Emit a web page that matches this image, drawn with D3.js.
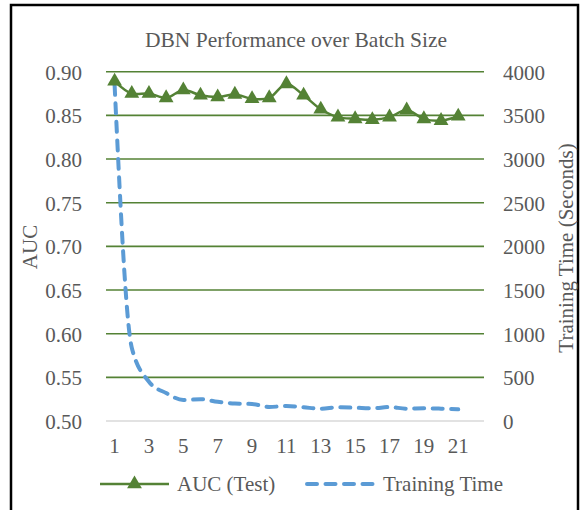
<!DOCTYPE html>
<html><head><meta charset="utf-8">
<script src="https://cdn.jsdelivr.net/npm/d3@7"></script>
<style>body{margin:0;background:#fff}svg{display:block}text{font-family:"Liberation Serif","Times New Roman",serif;fill:#595959}</style>
</head><body><svg id="c" width="581" height="510"></svg>
<script>
const batchSizes = [1,2,3,4,5,6,7,8,9,10,11,12,13,14,15,16,17,18,19,20,21];
const categories = d3.range(1,23);
const xTickLabels = [1,3,5,7,9,11,13,15,17,19,21];
const aucTest = [0.889,0.875,0.875,0.870,0.879,0.873,0.871,0.874,0.869,0.870,0.886,0.873,0.857,0.848,0.846,0.845,0.848,0.856,0.846,0.844,0.849];
const trainingTime = [3850,840,450,320,240,250,220,200,195,160,172,157,141,157,152,145,160,141,145,141,134];
const aucTicks = [0.50,0.55,0.60,0.65,0.70,0.75,0.80,0.85,0.90];
const timeTicks = [0,500,1000,1500,2000,2500,3000,3500,4000];

const svg = d3.select('#c');
const L = 106, R = 484, T = 71.7, B = 421;
const green = '#548235', blue = '#5B9BD5';
const FS = 21;

svg.append('rect').attr('x',11).attr('y',5).attr('width',567).attr('height',520)
  .attr('fill','none').attr('stroke','#000').attr('stroke-width',2.5);

const x = d3.scaleBand().domain(categories).range([L,R]);
const cx = d => x(d) + x.bandwidth()/2;
const yL = d3.scaleLinear().domain([0.5,0.9]).range([B,T]);
const yR = d3.scaleLinear().domain([0,4000]).range([B,T]);

// gridlines
svg.append('g').selectAll('line').data(aucTicks).join('line')
  .attr('x1',L).attr('x2',R).attr('y1',d=>yL(d)).attr('y2',d=>yL(d))
  .attr('stroke',d=>d===0.5?'#d9d9d9':green).attr('stroke-width',d=>d===0.5?1.5:1.6);

// left axis
const ax = svg.append('g').attr('transform',`translate(${L},0)`)
  .call(d3.axisLeft(yL).tickValues(aucTicks).tickFormat(d3.format('.2f')).tickSize(0).tickPadding(24));
ax.select('.domain').remove();
ax.selectAll('text').attr('font-size',FS).attr('fill','#595959').attr('font-family','Liberation Serif').attr('dy','0.35em');

const ar = svg.append('g').attr('transform',`translate(${R},0)`)
  .call(d3.axisRight(yR).tickValues(timeTicks).tickFormat(d3.format('d')).tickSize(0).tickPadding(19));
ar.select('.domain').remove();
ar.selectAll('text').attr('font-size',FS).attr('fill','#595959').attr('font-family','Liberation Serif').attr('dy','0.35em');

const axb = svg.append('g').attr('transform',`translate(0,${B})`)
  .call(d3.axisBottom(x).tickValues(xTickLabels).tickSize(0).tickPadding(17));
axb.select('.domain').remove();
axb.selectAll('text').attr('font-size',FS).attr('fill','#595959').attr('font-family','Liberation Serif');

// titles
svg.append('text').attr('x',296).attr('y',47).attr('text-anchor','middle').attr('font-size',21.5).text('DBN Performance over Batch Size');
svg.append('text').attr('transform','translate(37,247) rotate(-90)').attr('text-anchor','middle').attr('font-size',FS).text('AUC');
svg.append('text').attr('transform','translate(573,248) rotate(-90)').attr('text-anchor','middle').attr('font-size',FS).text('Training Time (Seconds)');

// training time line
const lineT = d3.line().x((d,i)=>cx(batchSizes[i])).y(d=>yR(d)).curve(d3.curveMonotoneX);
svg.append('path').attr('d',lineT(trainingTime)).attr('fill','none').attr('stroke',blue)
  .attr('stroke-width',4).attr('stroke-dasharray','10 8.5').attr('stroke-linecap','round');

// AUC line
const lineA = d3.line().x((d,i)=>cx(batchSizes[i])).y(d=>yL(d)).curve(d3.curveCatmullRom.alpha(0.5));
svg.append('path').attr('d',lineA(aucTest)).attr('fill','none').attr('stroke',green).attr('stroke-width',2.5);
const tri = d3.symbol().type(d3.symbolTriangle).size(95);
svg.append('g').selectAll('path').data(aucTest).join('path')
  .attr('transform',(d,i)=>`translate(${cx(batchSizes[i])},${yL(d)})`).attr('d',tri).attr('fill',green);

// legend
const ly = 484;
svg.append('line').attr('x1',100).attr('x2',169).attr('y1',ly).attr('y2',ly).attr('stroke',green).attr('stroke-width',2.5);
svg.append('path').attr('transform',`translate(134.5,${ly})`).attr('d',tri).attr('fill',green);
svg.append('text').attr('x',177).attr('y',ly+7).attr('font-size',FS).text('AUC (Test)');
svg.append('line').attr('x1',307).attr('x2',373).attr('y1',ly).attr('y2',ly).attr('stroke',blue)
  .attr('stroke-width',4).attr('stroke-dasharray','10 8.5').attr('stroke-linecap','round');
svg.append('text').attr('x',383).attr('y',ly+7).attr('font-size',FS).text('Training Time');
</script></body></html>
